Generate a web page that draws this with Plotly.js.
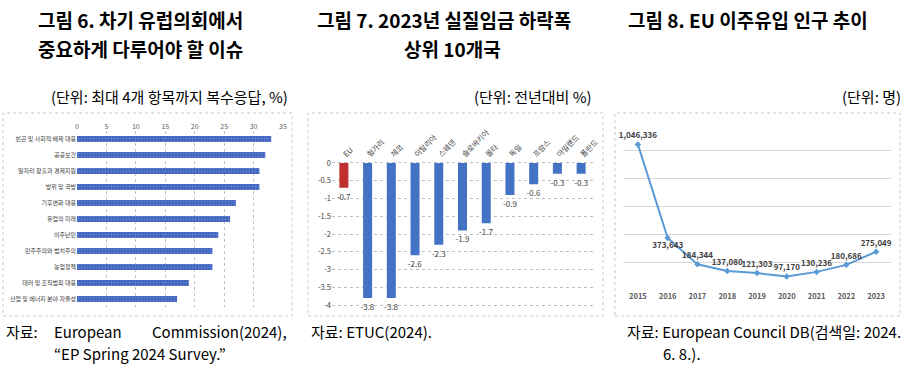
<!DOCTYPE html>
<html>
<head>
<meta charset="utf-8">
<script src="https://cdn.plot.ly/plotly-3.0.1.min.js"></script>
<style>html,body{margin:0;padding:0;background:#fff;}#chart{width:909px;height:379px;}</style>
</head>
<body>
<div id="chart"></div>
<script>
// ---- Data ----
const issueLabels = ['빈곤 및 사회적 배제 대응','공공보건','일자리 창출과 경제지원','방위 및 국방','기후변화 대응','유럽의 미래','이주난민','민주주의와 법치주의','농업정책','테러 및 조직범죄 대응','산업 및 에너지 분야 자율성'];
const issueValues = [33, 32, 31, 31, 27, 26, 24, 23, 23, 19, 17];
const issueTicks = [0, 5, 10, 15, 20, 25, 30, 35];

const wageCountries = ['EU','헝가리','체코','이탈리아','스웨덴','슬로바키아','몰타','독일','프랑스','아일랜드','폴란드'];
const wageValues = [-0.7, -3.8, -3.8, -2.6, -2.3, -1.9, -1.7, -0.9, -0.6, -0.3, -0.3];
const wageTicks = [0, -0.5, -1, -1.5, -2, -2.5, -3, -3.5, -4];

const years = ['2015','2016','2017','2018','2019','2020','2021','2022','2023'];
const migrants = [1046336, 373643, 184344, 137080, 121303, 97170, 130236, 180686, 275049];

// ---- Helpers (pixel -> paper) ----
const W = 909, H = 379;
const px = x => x / W;
const py = y => 1 - y / H;
const FONT = '"Noto Sans CJK KR", "Noto Sans", sans-serif';

const traces = [
  {
    type: 'bar', orientation: 'h', x: issueValues, y: issueLabels,
    xaxis: 'x', yaxis: 'y',
    marker: { color: '#3E62BD', line: { width: 0 },
      pattern: { shape: '.', fgcolor: '#8FA8E4', size: 3, solidity: 0.35, fillmode: 'overlay' } },
    hoverinfo: 'x+y'
  },
  {
    type: 'bar', x: wageCountries, y: wageValues,
    xaxis: 'x2', yaxis: 'y2',
    marker: { color: wageCountries.map((c, i) => i === 0 ? '#C0302E' : '#4472C4'),
      line: { width: 0 } },
    text: wageValues.map(v => v.toFixed(1)),
    textposition: 'outside', cliponaxis: false, constraintext: 'none',
    textfont: { size: 8, color: '#404040', family: FONT }
  },
  {
    type: 'scatter', mode: 'lines+markers+text', x: years, y: migrants,
    xaxis: 'x3', yaxis: 'y3',
    line: { color: '#5B9BD5', width: 2 },
    marker: { color: '#5B9BD5', size: 5, symbol: 'diamond' },
    text: migrants.map(v => v.toLocaleString('en-US')),
    textposition: ['top center','bottom center','top center','top center','top center','top center','top center','top center','top center'],
    textfont: { size: 8, color: '#404040', family: FONT, weight: 'bold' },
    cliponaxis: false
  }
];

function ann(text, x, y, size, opts) {
  return Object.assign({
    text: text, x: px(x), y: py(y), xref: 'paper', yref: 'paper',
    xanchor: 'left', yanchor: 'middle', showarrow: false,
    font: { family: FONT, size: size, color: '#000' }
  }, opts || {});
}

const annotations = [
  ann('<b>그림 6. 차기 유럽의회에서</b>', 36, 19, 19),
  ann('<b>중요하게 다루어야 할 이슈</b>', 36, 49, 19),
  ann('<b>그림 7. 2023년 실질임금 하락폭</b>', 315, 19, 19),
  ann('<b>상위 10개국</b>', 452, 49, 19, { xanchor: 'center' }),
  ann('<b>그림 8. EU 이주유입 인구 추이</b>', 626, 19, 19),
  ann('(단위: 최대 4개 항목까지 복수응답, %)', 290, 97, 15, { xanchor: 'right' }),
  ann('(단위: 전년대비 %)', 594, 97, 15, { xanchor: 'right' }),
  ann('(단위: 명)', 903, 97, 15, { xanchor: 'right' }),
  ann('자료:', 4, 331, 15),
  ann('European', 52, 331, 15),
  ann('Commission(2024),', 289, 331, 15, { xanchor: 'right' }),
  ann('“EP Spring 2024 Survey.”', 52, 353, 15),
  ann('자료: ETUC(2024).', 309, 331, 15),
  ann('자료: European Council DB(검색일: 2024.', 903, 331, 15, { xanchor: 'right' }),
  ann('6. 8.).', 661, 353, 15)
];

const boxLine = { color: '#C8C8C8', width: 1, dash: 'dot' };
const shapes = [
  { type: 'rect', xref: 'paper', yref: 'paper', x0: px(3), x1: px(292), y0: py(316), y1: py(113), line: boxLine, layer: 'below' },
  { type: 'rect', xref: 'paper', yref: 'paper', x0: px(308), x1: px(603), y0: py(316), y1: py(113), line: boxLine, layer: 'below' },
  { type: 'rect', xref: 'paper', yref: 'paper', x0: px(615), x1: px(900), y0: py(316), y1: py(113), line: boxLine, layer: 'below' }
];

const layout = {
  width: W, height: H,
  margin: { l: 0, r: 0, t: 0, b: 0 },
  paper_bgcolor: '#fff', plot_bgcolor: 'rgba(0,0,0,0)',
  showlegend: false,
  font: { family: FONT, color: '#404040' },
  bargap: 0.62,
  xaxis: { domain: [px(77), px(283)], anchor: 'y', side: 'top', range: [0, 35],
    tickvals: issueTicks, showgrid: true, gridcolor: '#BFBFBF', griddash: 'dot',
    zeroline: false, showline: false, ticks: '', tickfont: { size: 7, color: '#595959' } },
  yaxis: { domain: [py(307), py(131)], anchor: 'x', type: 'category', autorange: 'reversed',
    showgrid: false, zeroline: false, ticks: '', tickfont: { size: 6, color: '#404040' } },
  xaxis2: { domain: [px(332), px(593)], anchor: 'y2', side: 'top', type: 'category',
    tickangle: -45, showgrid: false, zeroline: false, showline: false, ticks: '',
    tickfont: { size: 7.5, color: '#404040' } },
  yaxis2: { domain: [py(306.8), py(161.2)], anchor: 'x2', range: [-4.05, 0.05],
    tickvals: wageTicks, ticktext: wageTicks.map(String),
    showgrid: true, gridcolor: '#BFBFBF', griddash: 'dot', zeroline: false, ticks: '',
    tickfont: { size: 7.5, color: '#404040' } },
  xaxis3: { domain: [px(623), px(891)], anchor: 'y3', type: 'category', range: [-0.5, 8.5],
    showgrid: false, zeroline: false, showline: false, ticks: '',
    tickfont: { size: 7.5, color: '#595959', weight: 'bold' } },
  yaxis3: { domain: [py(290), py(123)], anchor: 'x3', range: [0, 1200000], dtick: 200000,
    showticklabels: false, showgrid: true, gridcolor: '#D9D9D9', zeroline: false, ticks: '' },
  annotations: annotations,
  shapes: shapes
};

Plotly.newPlot('chart', traces, layout, { displayModeBar: false, staticPlot: true });
</script>
</body>
</html>
